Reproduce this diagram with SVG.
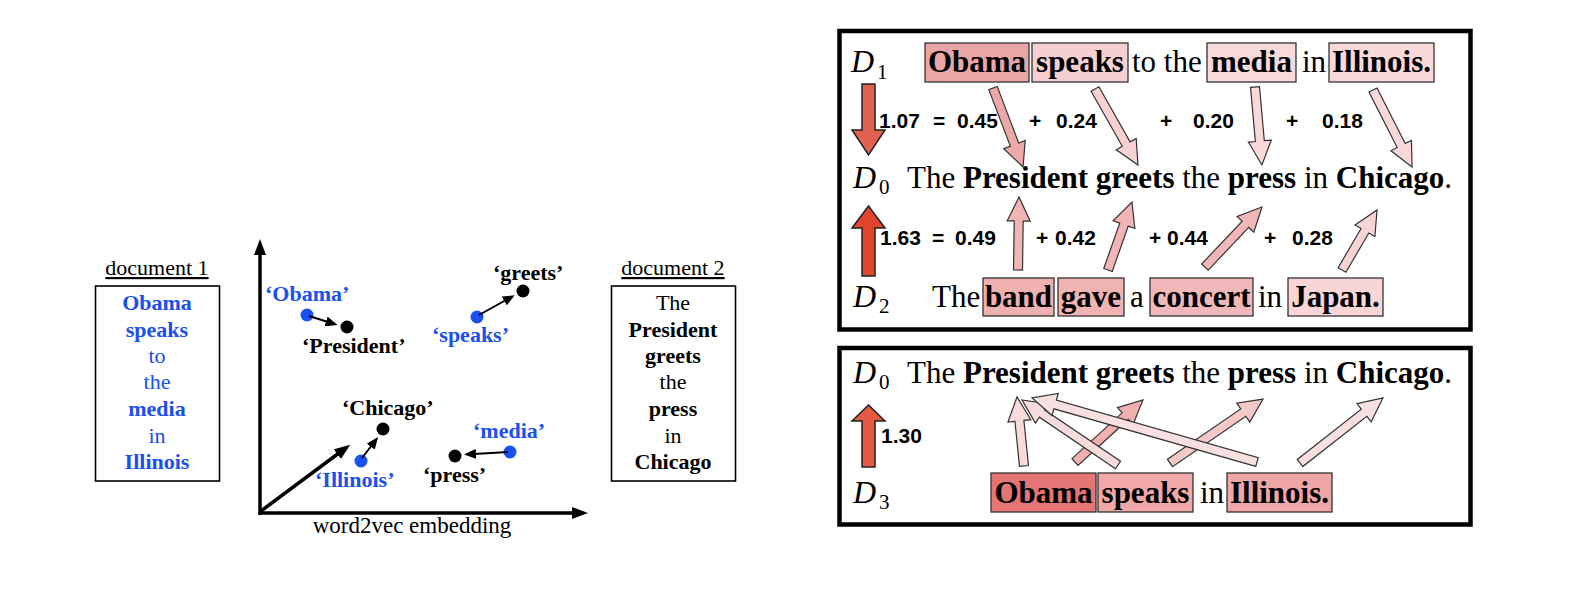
<svg xmlns="http://www.w3.org/2000/svg" width="1590" height="598" viewBox="0 0 1590 598">
<defs>
<style>
.b{font-weight:bold}
.lbl{font-family:"Liberation Serif","Times New Roman",serif;font-weight:bold;font-size:22px}
.blue{fill:#1a4ff0}
.doc{font-family:"Liberation Serif","Times New Roman",serif;font-size:22px;text-anchor:middle}
.sent{font-family:"Liberation Serif","Times New Roman",serif;font-size:31px;fill:#000}
.mid{text-anchor:middle}
.num{font-family:"Liberation Sans",Arial,sans-serif;font-weight:bold;font-size:21px}
.math{font-family:"Liberation Serif","Times New Roman",serif;font-style:italic;font-size:32px}
.sub{font-family:"Liberation Serif","Times New Roman",serif;font-size:21px}
.hl{stroke:#333;stroke-width:1.3}
.pa{stroke:#333;stroke-width:1.2;stroke-linejoin:miter}
.big{stroke:#222;stroke-width:1.5}
.box{fill:none;stroke:#000;stroke-width:4.5}
.docbox{fill:#fff;stroke:#000;stroke-width:1.6}
.ax{stroke:#000;stroke-width:3.5;fill:none}
.va{stroke:#000;stroke-width:2;fill:none}
.dotb{fill:#1a4ff0}
.dotk{fill:#000}
</style>
<marker id="axhead" markerUnits="userSpaceOnUse" markerWidth="16" markerHeight="12" refX="2" refY="6" orient="auto">
<path d="M0,0 L16,6 L0,12 z" fill="#000"/>
</marker>
<marker id="vhead" markerUnits="userSpaceOnUse" markerWidth="12" markerHeight="10" refX="2" refY="5" orient="auto">
<path d="M0,0 L12,5 L0,10 z" fill="#000"/>
</marker>
</defs>
<rect x="0" y="0" width="1590" height="598" fill="#fff"/>

<!-- document 1 -->
<g id="doc1">
<text class="doc" x="157" y="275" text-decoration="underline">document 1</text>
<rect class="docbox" x="95.5" y="286" width="124" height="195"/>
<text class="doc b blue" x="157" y="310">Obama</text>
<text class="doc b blue" x="157" y="337">speaks</text>
<text class="doc blue" x="157" y="363">to</text>
<text class="doc blue" x="157" y="389">the</text>
<text class="doc b blue" x="157" y="416">media</text>
<text class="doc blue" x="157" y="443">in</text>
<text class="doc b blue" x="157" y="469">Illinois</text>
</g>

<!-- document 2 -->
<g id="doc2">
<text class="doc" x="673" y="275" text-decoration="underline">document 2</text>
<rect class="docbox" x="611.5" y="286" width="124" height="195"/>
<text class="doc" x="673" y="310">The</text>
<text class="doc b" x="673" y="337">President</text>
<text class="doc b" x="673" y="363">greets</text>
<text class="doc" x="673" y="389">the</text>
<text class="doc b" x="673" y="416">press</text>
<text class="doc" x="673" y="443">in</text>
<text class="doc b" x="673" y="469">Chicago</text>
</g>

<!-- embedding plot -->
<g id="axes">
<line class="ax" x1="260" y1="515" x2="260" y2="253" marker-end="url(#axhead)"/>
<line class="ax" x1="258.5" y1="513" x2="574" y2="513" marker-end="url(#axhead)"/>
<text x="412" y="533" class="mid" font-family="Liberation Serif, serif" font-size="23">word2vec embedding</text>
</g>
<g id="w-obama"><circle class="dotb" cx="307" cy="315" r="6.5"/><text class="lbl blue" x="265" y="301">‘Obama’</text></g>
<g id="w-president"><circle class="dotk" cx="347" cy="327" r="6.5"/><text class="lbl" x="302" y="353">‘President’</text></g>
<g id="w-greets"><circle class="dotk" cx="523" cy="291" r="6.5"/><text class="lbl" x="493" y="280">‘greets’</text></g>
<g id="w-speaks"><circle class="dotb" cx="477" cy="317" r="6.5"/><text class="lbl blue" x="432" y="342">‘speaks’</text></g>
<g id="w-chicago"><circle class="dotk" cx="383" cy="429" r="6.5"/><text class="lbl" x="342" y="415">‘Chicago’</text></g>
<g id="w-illinois"><circle class="dotb" cx="361" cy="461" r="6.5"/><text class="lbl blue" x="315" y="487">‘Illinois’</text></g>
<g id="w-media"><circle class="dotb" cx="510" cy="452" r="6.5"/><text class="lbl blue" x="473" y="438">‘media’</text></g>
<g id="w-press"><circle class="dotk" cx="455" cy="456" r="6.5"/><text class="lbl" x="423" y="482">‘press’</text></g>

<g id="plot-connectors">
<line class="ax" x1="261" y1="511" x2="339" y2="453" stroke-width="3" marker-end="url(#axhead)"/>
<line class="va" x1="309" y1="316" x2="328" y2="322" marker-end="url(#vhead)"/>
<line class="va" x1="479" y1="315" x2="506" y2="300" marker-end="url(#vhead)"/>
<line class="va" x1="362" y1="458" x2="372" y2="445" marker-end="url(#vhead)"/>
<line class="va" x1="508" y1="452" x2="474" y2="454" marker-end="url(#vhead)"/>
</g>

<!-- right panel frames -->
<rect class="box" x="839.5" y="31" width="631" height="298.5"/>
<rect class="box" x="839.5" y="348" width="631" height="176.5"/>

<!-- box 1 : D1 row -->
<g id="d1-label"><text class="math" x="851" y="72">D</text><text class="sub" x="877" y="79">1</text></g>
<g id="d1-obama"><rect class="hl" x="925" y="43" width="104" height="39" fill="#eba5a5"/><text class="sent b mid" x="977" y="72">Obama</text></g>
<g id="d1-speaks"><rect class="hl" x="1032" y="43" width="96" height="39" fill="#f6d0d0"/><text class="sent b mid" x="1080" y="72">speaks</text></g>
<text class="sent" x="1132" y="72">to the</text>
<g id="d1-media"><rect class="hl" x="1207" y="43" width="89" height="39" fill="#f9dada"/><text class="sent b mid" x="1251.5" y="72">media</text></g>
<text class="sent" x="1302" y="72">in</text>
<g id="d1-illinois"><rect class="hl" x="1329" y="43" width="105" height="39" fill="#f9d8d8"/><text class="sent b mid" x="1381.5" y="72">Illinois.</text></g>

<!-- box 1 : D0 row -->
<g id="d0-a">
<text class="math" x="853" y="188">D</text><text class="sub" x="879" y="194">0</text>
<text class="sent" x="907" y="188">The <tspan class="b">President</tspan> <tspan class="b">greets</tspan> the <tspan class="b">press</tspan> in <tspan class="b">Chicago</tspan>.</text>
</g>

<!-- box 1 : D2 row -->
<g id="d2-label"><text class="math" x="853" y="307">D</text><text class="sub" x="879" y="313">2</text></g>
<text class="sent" x="932" y="307">The</text>
<g id="d2-band"><rect class="hl" x="983" y="278" width="71" height="38" fill="#efb0b0"/><text class="sent b mid" x="1018.5" y="307">band</text></g>
<g id="d2-gave"><rect class="hl" x="1058" y="278" width="66" height="38" fill="#f0b3b3"/><text class="sent b mid" x="1091" y="307">gave</text></g>
<text class="sent" x="1130" y="307">a</text>
<g id="d2-concert"><rect class="hl" x="1150" y="278" width="103" height="38" fill="#f0b8b8"/><text class="sent b mid" x="1201.5" y="307">concert</text></g>
<text class="sent" x="1258" y="307">in</text>
<g id="d2-japan"><rect class="hl" x="1288" y="278" width="95" height="38" fill="#f8d6d6"/><text class="sent b mid" x="1335.5" y="307">Japan.</text></g>

<!-- numbers -->
<g id="sum1">
<text class="num" x="879" y="128">1.07</text>
<text class="num" x="933" y="128">=</text>
<text class="num" x="957" y="128">0.45</text>
<text class="num" x="1029" y="128">+</text>
<text class="num" x="1056" y="128">0.24</text>
<text class="num" x="1160" y="128">+</text>
<text class="num" x="1193" y="128">0.20</text>
<text class="num" x="1286" y="128">+</text>
<text class="num" x="1322" y="128">0.18</text>
</g>
<g id="sum2">
<text class="num" x="880" y="245">1.63</text>
<text class="num" x="932" y="245">=</text>
<text class="num" x="955" y="245">0.49</text>
<text class="num" x="1036" y="245">+</text>
<text class="num" x="1055" y="245">0.42</text>
<text class="num" x="1149" y="245">+</text>
<text class="num" x="1167" y="245">0.44</text>
<text class="num" x="1264" y="245">+</text>
<text class="num" x="1292" y="245">0.28</text>
</g>

<!-- box 2 -->
<g id="d0-b">
<text class="math" x="853" y="383">D</text><text class="sub" x="879" y="389">0</text>
<text class="sent" x="907" y="383">The <tspan class="b">President</tspan> <tspan class="b">greets</tspan> the <tspan class="b">press</tspan> in <tspan class="b">Chicago</tspan>.</text>
</g>
<text class="num" x="881" y="443">1.30</text>
<g id="d3-label"><text class="math" x="853" y="503">D</text><text class="sub" x="879" y="509">3</text></g>
<g id="d3-obama"><rect class="hl" x="991" y="473" width="105" height="39" fill="#e57575"/><text class="sent b mid" x="1043.5" y="503">Obama</text></g>
<g id="d3-speaks"><rect class="hl" x="1098" y="473" width="95" height="39" fill="#f0a8a8"/><text class="sent b mid" x="1145.5" y="503">speaks</text></g>
<text class="sent" x="1200" y="503">in</text>
<g id="d3-illinois"><rect class="hl" x="1227" y="473" width="105" height="39" fill="#eea6a6"/><text class="sent b mid" x="1279.5" y="503">Illinois.</text></g>

<!-- connectors -->
<g id="connectors">
<polygon class="big" fill="#e0624f" points="862,84 875,84 875,130 885,130 868.5,155 852,130 862,130"/>
<polygon class="big" fill="#e2452e" points="868.5,206 885,228 875,228 875,276 862,276 862,228 852,228"/>
<polygon class="big" fill="#e55a43" points="868.5,405 885,421 875,421 875,467 862,467 862,421 852,421"/>

<polygon class="pa" fill="#eda8a8" transform="translate(993 88) rotate(69.2)" points="0,-4.5 60.5,-4.5 60.5,-11.5 84.5,0 60.5,11.5 60.5,4.5 0,4.5"/>
<polygon class="pa" fill="#f7d0d0" transform="translate(1095 89) rotate(60.5)" points="0,-4.5 63.3,-4.5 63.3,-11.5 87.3,0 63.3,11.5 63.3,4.5 0,4.5"/>
<polygon class="pa" fill="#f8d8d8" transform="translate(1255 87) rotate(84.9)" points="0,-4.5 54.3,-4.5 54.3,-11.5 78.3,0 54.3,11.5 54.3,4.5 0,4.5"/>
<polygon class="pa" fill="#f8d8d8" transform="translate(1373 90) rotate(63.1)" points="0,-4.5 62.3,-4.5 62.3,-11.5 86.3,0 62.3,11.5 62.3,4.5 0,4.5"/>

<polygon class="pa" fill="#f2b5b5" transform="translate(1018 270) rotate(-89.2)" points="0,-4.5 49,-4.5 49,-11.5 73,0 49,11.5 49,4.5 0,4.5"/>
<polygon class="pa" fill="#f2b5b5" transform="translate(1108 270) rotate(-70.6)" points="0,-4.5 48.1,-4.5 48.1,-11.5 72.1,0 48.1,11.5 48.1,4.5 0,4.5"/>
<polygon class="pa" fill="#f2b8b8" transform="translate(1205 267) rotate(-46.5)" points="0,-4.5 58.8,-4.5 58.8,-11.5 82.8,0 58.8,11.5 58.8,4.5 0,4.5"/>
<polygon class="pa" fill="#f8d5d5" transform="translate(1342 270) rotate(-59.7)" points="0,-4.5 45.5,-4.5 45.5,-11.5 69.5,0 45.5,11.5 45.5,4.5 0,4.5"/>

<polygon class="pa" fill="#f0b0b0" transform="translate(1075 462) rotate(-42.4)" points="0,-4.5 68,-4.5 68,-11.5 92,0 68,11.5 68,4.5 0,4.5"/>
<polygon class="pa" fill="#f5c8c8" transform="translate(1170 463) rotate(-34.5)" points="0,-4.5 88.9,-4.5 88.9,-11.5 112.9,0 88.9,11.5 88.9,4.5 0,4.5"/>
<polygon class="pa" fill="#f8e0e0" transform="translate(1300 463) rotate(-38.1)" points="0,-4.5 81.4,-4.5 81.4,-11.5 105.4,0 81.4,11.5 81.4,4.5 0,4.5"/>
<polygon class="pa" fill="#f8dcdc" transform="translate(1024 466) rotate(-95.8)" points="0,-4.5 45.4,-4.5 45.4,-11.5 69.4,0 45.4,11.5 45.4,4.5 0,4.5"/>
<polygon class="pa" fill="#f8dcdc" transform="translate(1118 465) rotate(-145.9)" points="0,-4.5 91.9,-4.5 91.9,-11.5 115.9,0 91.9,11.5 91.9,4.5 0,4.5"/>
<polygon class="pa" fill="#f8e0e0" transform="translate(1257 462) rotate(-164.1)" points="0,-4.5 209.9,-4.5 209.9,-11.5 233.9,0 209.9,11.5 209.9,4.5 0,4.5"/>
</g>
</svg>
